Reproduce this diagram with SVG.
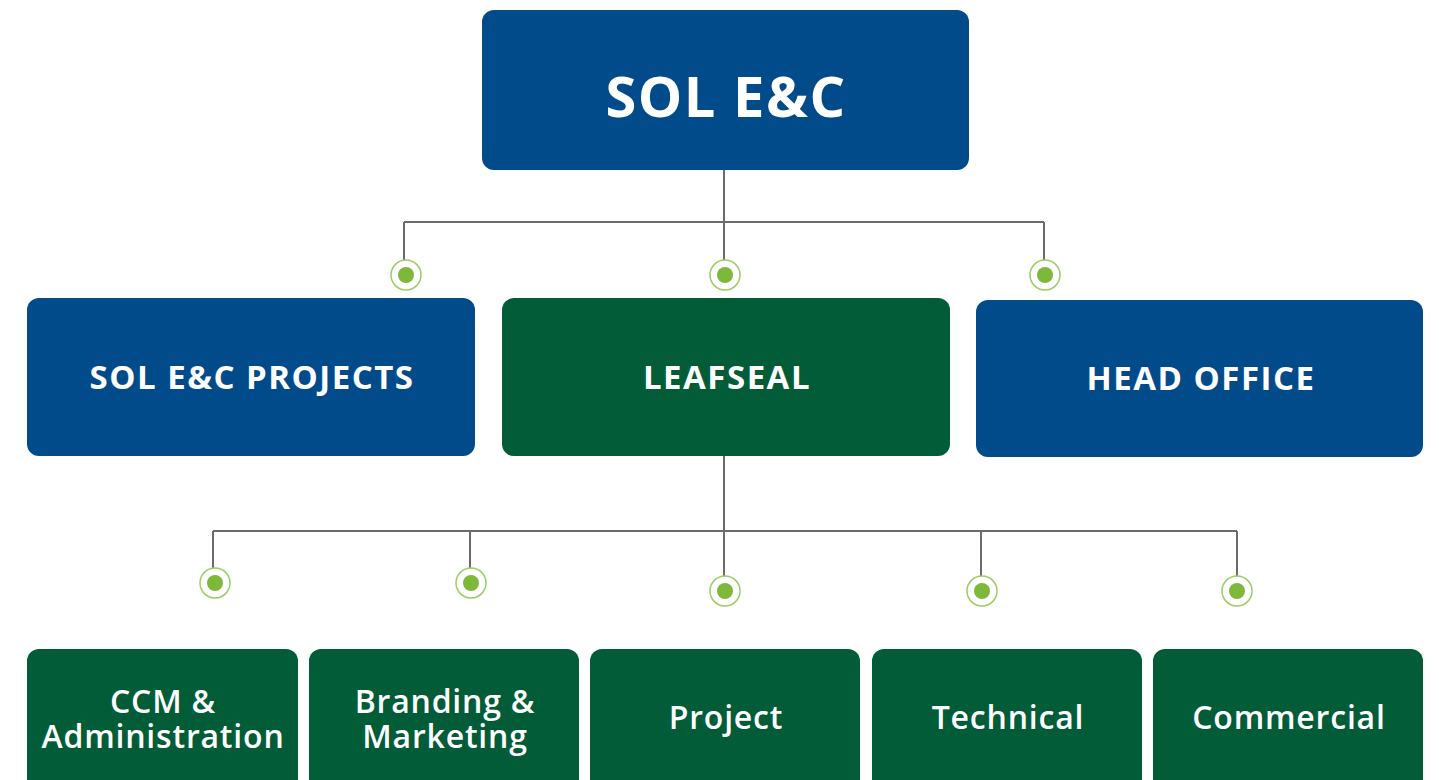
<svg xmlns="http://www.w3.org/2000/svg" width="1439" height="780" viewBox="0 0 1439 780">
<style>
.blue{fill:#024B8B}
.green{fill:#015C37}
.t{fill:#fff;font-family:"Open Sans","Liberation Sans",sans-serif;text-anchor:middle}
.t1{font-size:56px;font-weight:700;letter-spacing:1.5px}
.t2{font-size:33px;font-weight:700;letter-spacing:1.5px}
.t3{font-size:32px;font-weight:600;letter-spacing:0.8px}
.ln{stroke:#6b6b6b;stroke-width:2;fill:none}
.ring{fill:#fff;stroke:#9ccc65;stroke-width:1.5}
.dot{fill:#7db83a}
</style>
<rect width="1439" height="780" fill="#fff"/>
<g id="connectors">
<path class="ln" d="M724 170V222M404 222H1044M404 222V275M724 222V275M1044 222V275"/>
<path class="ln" d="M724 456V531M213 531H1237M213 531V583M470 531V583M724 531V591M981 531V591M1237 531V591"/>
<g>
<circle class="ring" cx="406" cy="275" r="15"/><circle class="dot" cx="406" cy="275" r="8"/>
<circle class="ring" cx="725" cy="275" r="15"/><circle class="dot" cx="725" cy="275" r="8"/>
<circle class="ring" cx="1045" cy="275" r="15"/><circle class="dot" cx="1045" cy="275" r="8"/>
<circle class="ring" cx="215" cy="583" r="15"/><circle class="dot" cx="215" cy="583" r="8"/>
<circle class="ring" cx="471" cy="583" r="15"/><circle class="dot" cx="471" cy="583" r="8"/>
<circle class="ring" cx="725" cy="591" r="15"/><circle class="dot" cx="725" cy="591" r="8"/>
<circle class="ring" cx="982" cy="591" r="15"/><circle class="dot" cx="982" cy="591" r="8"/>
<circle class="ring" cx="1237" cy="591" r="15"/><circle class="dot" cx="1237" cy="591" r="8"/>
</g>
</g>
<g id="sol-ec"><rect class="blue" x="482" y="10" width="487" height="160" rx="12"/><text class="t t1" x="726" y="117">SOL E&amp;C</text></g>
<g id="projects"><rect class="blue" x="27" y="298" width="448" height="158" rx="12"/><text class="t t2" x="252" y="389">SOL E&amp;C PROJECTS</text></g>
<g id="leafseal"><rect class="green" x="502" y="298" width="448" height="158" rx="12"/><text class="t t2" x="727" y="389">LEAFSEAL</text></g>
<g id="head-office"><rect class="blue" x="976" y="300" width="447" height="157" rx="12"/><text class="t t2" x="1201" y="390">HEAD OFFICE</text></g>
<g id="ccm"><rect class="green" x="27" y="649" width="271" height="150" rx="12"/><text class="t t3" x="163" y="713">CCM &amp;</text><text class="t t3" x="163" y="748">Administration</text></g>
<g id="branding"><rect class="green" x="309" y="649" width="270" height="150" rx="12"/><text class="t t3" x="445" y="713">Branding &amp;</text><text class="t t3" x="445" y="748">Marketing</text></g>
<g id="project"><rect class="green" x="590" y="649" width="270" height="150" rx="12"/><text class="t t3" x="726" y="729">Project</text></g>
<g id="technical"><rect class="green" x="872" y="649" width="270" height="150" rx="12"/><text class="t t3" x="1008" y="729">Technical</text></g>
<g id="commercial"><rect class="green" x="1153" y="649" width="270" height="150" rx="12"/><text class="t t3" x="1289" y="729">Commercial</text></g>
</svg>
